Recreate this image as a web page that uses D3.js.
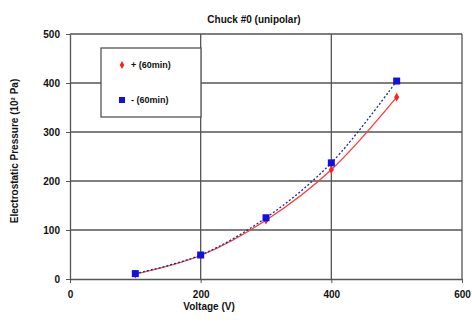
<!DOCTYPE html>
<html>
<head>
<meta charset="utf-8">
<script src="https://cdn.jsdelivr.net/npm/d3@7"></script>
<style>
  body { margin: 0; background: #fff; }
  text { font-family: "Liberation Sans", Arial, sans-serif; fill: #111; }
</style>
</head>
<body>
<div id="chart"></div>
<script>
const voltages = [100, 200, 300, 400, 500];
const plusValues = [10, 48, 120, 223, 371];
const minusValues = [11, 49, 125, 237, 404];
const xTicks = [0, 200, 400, 600];
const yTicks = [0, 100, 200, 300, 400, 500];
const seriesNames = ["+ (60min)", "- (60min)"];

const width = 472, height = 323;
const margin = {left: 70, right: 10, top: 34, bottom: 44};

const svg = d3.select("#chart").append("svg")
  .attr("width", width)
  .attr("height", height);

const x = d3.scaleLinear().domain([0, 600]).range([margin.left, 462]);
const y = d3.scaleLinear().domain([0, 500]).range([279, margin.top]);

// gridlines
svg.append("g").selectAll("line.h")
  .data(yTicks.filter(d => d > 0))
  .enter().append("line")
  .attr("x1", x(0)).attr("x2", x(600))
  .attr("y1", d => y(d)).attr("y2", d => y(d))
  .attr("stroke", "#555").attr("stroke-width", 1.3);

svg.append("g").selectAll("line.v")
  .data(xTicks.filter(d => d > 0))
  .enter().append("line")
  .attr("x1", d => x(d)).attr("x2", d => x(d))
  .attr("y1", y(0)).attr("y2", y(500))
  .attr("stroke", "#555").attr("stroke-width", 1.3);

// axes
const xAxis = svg.append("g")
  .attr("transform", `translate(0,${y(0)})`)
  .call(d3.axisBottom(x).tickValues(xTicks).tickSize(4).tickSizeOuter(0));
const yAxis = svg.append("g")
  .attr("transform", `translate(${x(0)},0)`)
  .call(d3.axisLeft(y).tickValues(yTicks).tickSize(4).tickSizeOuter(0));

[xAxis, yAxis].forEach(a => {
  a.select(".domain").attr("stroke", "#555").attr("stroke-width", 1.3);
  a.selectAll(".tick line").attr("stroke", "#555");
  a.selectAll("text").attr("font-size", 10).attr("font-weight", "bold").attr("fill", "#222")
    .style("font-family", "Liberation Sans, Arial, sans-serif");
});
xAxis.selectAll("text").attr("dy", "1.2em");
yAxis.selectAll("text").attr("dx", "-0.3em");

// lines
const line = d3.line().curve(d3.curveCatmullRom.alpha(0.5));

svg.append("path")
  .attr("d", line(voltages.map((v, i) => [x(v), y(plusValues[i])])))
  .attr("fill", "none").attr("stroke", "#ff3b3b").attr("stroke-width", 1.3);

svg.append("path")
  .attr("d", line(voltages.map((v, i) => [x(v), y(minusValues[i])])))
  .attr("fill", "none").attr("stroke", "#1a2a8c").attr("stroke-width", 1.3)
  .attr("stroke-dasharray", "2,2");

// markers
svg.append("g").selectAll("path")
  .data(voltages)
  .enter().append("path")
  .attr("d", d3.symbol(d3.symbolDiamond, 22))
  .attr("transform", (d, i) => `translate(${x(d)},${y(plusValues[i])})`)
  .attr("fill", "#ff2020");

svg.append("g").selectAll("rect")
  .data(voltages)
  .enter().append("rect")
  .attr("x", d => x(d) - 3.5)
  .attr("y", (d, i) => y(minusValues[i]) - 3.5)
  .attr("width", 7).attr("height", 7)
  .attr("fill", "#1010e0");

// legend
const legend = svg.append("g");
legend.append("rect")
  .attr("x", 101).attr("y", 48).attr("width", 100).attr("height", 69)
  .attr("fill", "#fff").attr("stroke", "#555").attr("stroke-width", 1.3);
legend.append("path")
  .attr("d", d3.symbol(d3.symbolDiamond, 18))
  .attr("transform", "translate(122,65)")
  .attr("fill", "#ff2020");
legend.append("rect")
  .attr("x", 119).attr("y", 97).attr("width", 6).attr("height", 6)
  .attr("fill", "#1010e0");
legend.selectAll("text")
  .data(seriesNames)
  .enter().append("text")
  .attr("x", 131)
  .attr("y", (d, i) => 68 + i * 35)
  .attr("font-size", 9).attr("font-weight", "bold")
  .text(d => d);

// title and labels
svg.append("text")
  .attr("x", 254).attr("y", 23)
  .attr("text-anchor", "middle")
  .attr("font-size", 10).attr("font-weight", "bold")
  .text("Chuck #0 (unipolar)");

svg.append("text")
  .attr("x", 209).attr("y", 310)
  .attr("text-anchor", "middle")
  .attr("font-size", 10).attr("font-weight", "bold")
  .text("Voltage (V)");

svg.append("text")
  .attr("transform", "translate(18,151) rotate(-90)")
  .attr("text-anchor", "middle")
  .attr("font-size", 10).attr("font-weight", "bold")
  .text("Electrostatic Pressure (10² Pa)");
</script>
</body>
</html>
